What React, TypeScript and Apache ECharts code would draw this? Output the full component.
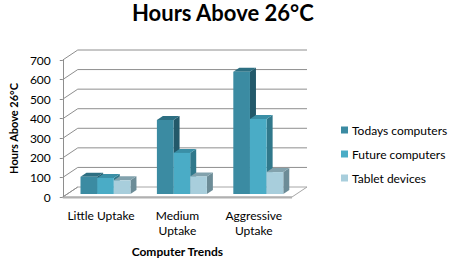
import React, { useEffect, useRef } from "react";
import * as echarts from "echarts";

const categories = ["Little Uptake", "Medium\nUptake", "Aggressive\nUptake"];
const seriesNames = ["Todays computers", "Future computers", "Tablet devices"];
const todays = [88, 378, 625];
const future = [82, 210, 383];
const tablet = [70, 90, 112];
const yTicks = [0, 100, 200, 300, 400, 500, 600, 700];

const FONT = "Lato";
const DX = 15;
const DY = -10;
const FF = 0.3;
const FB = 0.7;
const faceColors = [
  { front: "#3B8BA2", top: "#2D6F82", side: "#23596A" },
  { front: "#4AACC6", top: "#3A8FA6", side: "#30788B" },
  { front: "#A8CEDC", top: "#82A2AD", side: "#6C8C97" },
];
const GRID = "#8E8E8E";

export default function App() {
  const ref = useRef<HTMLDivElement>(null);
  useEffect(() => {
    if (!ref.current) return;
    const chart = echarts.init(ref.current, undefined, { renderer: "svg" });
    const allValues = [todays, future, tablet];

    const barSeries = allValues.map((vals, si) => ({
      type: "custom",
      name: seriesNames[si],
      itemStyle: { color: faceColors[si].front },
      z: 3 + si,
      data: vals.map((v, ci) => [ci, v]),
      encode: { x: 0, y: 1 },
      renderItem: (params: any, api: any) => {
        const ci = api.value(0);
        const v = api.value(1);
        const base = api.coord([ci, 0]);
        const top = api.coord([ci, v]);
        const bw = api.size([1, 0])[0];
        const w = bw * 0.218;
        const x = base[0] - bw / 2 + bw * 0.173 + si * w + DX * FF;
        const yb = base[1] + DY * FF;
        const yt = top[1] + DY * FF;
        const ddx = DX * (FB - FF);
        const ddy = DY * (FB - FF);
        const c = faceColors[si];
        return {
          type: "group",
          children: [
            {
              type: "polygon",
              shape: { points: [[x + w, yt], [x + w + ddx, yt + ddy], [x + w + ddx, yb + ddy], [x + w, yb]] },
              style: { fill: c.side },
            },
            {
              type: "polygon",
              shape: { points: [[x, yt], [x + w, yt], [x + w + ddx, yt + ddy], [x + ddx, yt + ddy]] },
              style: { fill: c.top },
            },
            {
              type: "rect",
              shape: { x, y: yt, width: w, height: yb - yt },
              style: { fill: c.front },
            },
          ],
        };
      },
    }));

    const frameSeries = {
      type: "custom",
      name: "frame",
      z: 1,
      silent: true,
      legendHoverLink: false,
      data: yTicks.map((t) => [0, t]),
      encode: { x: 0, y: 1 },
      renderItem: (params: any, api: any) => {
        const t = api.value(1);
        const bw = api.size([1, 0])[0];
        const p0 = api.coord([0, t]);
        const p2 = api.coord([categories.length - 1, t]);
        const x0 = p0[0] - bw / 2;
        const x1 = p2[0] + bw / 2;
        const y = p0[1];
        const children: any[] = [];
        if (t === 0) {
          children.push({
            type: "polygon",
            shape: { points: [[x0, y], [x1, y], [x1 + DX, y + DY], [x0 + DX, y + DY]] },
            style: { fill: "#FFFFFF", stroke: "#A6A6A6", lineWidth: 1 },
          });
          children.push({
            type: "line",
            shape: { x1: x0, y1: y + 0.5, x2: x1, y2: y + 0.5 },
            style: { stroke: "#B0B0B0", lineWidth: 2 },
          });
        } else {
          children.push({
            type: "line",
            shape: { x1: x0 + DX, y1: y + DY, x2: x1 + DX, y2: y + DY },
            style: { stroke: GRID, lineWidth: 1 },
          });
        }
        children.push({
          type: "line",
          shape: { x1: x0, y1: y, x2: x0 + DX, y2: y + DY },
          style: { stroke: GRID, lineWidth: 1 },
        });
        return { type: "group", children };
      },
    };

    chart.setOption({
      animation: false,
      backgroundColor: "#FFFFFF",
      title: {
        text: "Hours Above 26°C",
        left: 132,
        top: 1,
        padding: 0,
        textStyle: { fontFamily: FONT, fontWeight: "bold", fontSize: 22, color: "#000000" },
      },
      legend: {
        orient: "vertical",
        left: 336,
        top: 118,
        icon: "rect",
        itemWidth: 7,
        itemHeight: 7,
        itemGap: 10,
        data: seriesNames,
        textStyle: { fontFamily: FONT, fontSize: 12, color: "#000000", lineHeight: 14, padding: [0, 0, 0, -1] },
      },
      grid: { left: 58, top: 60, width: 234, height: 137, containLabel: false },
      xAxis: {
        type: "category",
        data: categories,
        axisLine: { show: false },
        axisTick: { show: false },
        axisLabel: { margin: 11, fontFamily: FONT, fontSize: 12, color: "#000000", lineHeight: 15, interval: 0 },
        name: "Computer Trends",
        nameLocation: "middle",
        nameGap: 48,
        nameTextStyle: { fontFamily: FONT, fontWeight: "bold", fontSize: 12, color: "#000000" },
      },
      yAxis: {
        type: "value",
        min: 0,
        max: 700,
        interval: 100,
        axisLine: { show: true, lineStyle: { color: GRID } },
        axisTick: { show: true, length: 3, lineStyle: { color: GRID } },
        splitLine: { show: false },
        axisLabel: { margin: 12, fontFamily: FONT, fontSize: 12, color: "#000000" },
        name: "Hours Above 26°C",
        nameLocation: "middle",
        nameRotate: 90,
        nameGap: 42,
        nameTextStyle: { fontFamily: FONT, fontWeight: "bold", fontSize: 11, color: "#000000" },
      },
      series: [frameSeries, ...barSeries],
    });
    return () => chart.dispose();
  }, []);
  return (
    <div
      ref={ref}
      style={{ position: "fixed", left: 0, top: 0, width: 453, height: 266, background: "#FFFFFF" }}
    />
  );
}
